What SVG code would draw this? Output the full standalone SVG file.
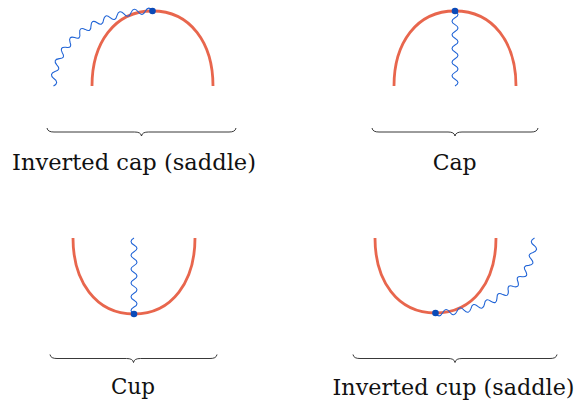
<svg xmlns="http://www.w3.org/2000/svg" width="577" height="405" viewBox="0 0 577 405">
<style>
.red{fill:none;stroke:#e8664d;stroke-width:2.8}
.wave{fill:none;stroke:#1f63d6;stroke-width:1.1}
.dot{fill:#0a4ab8}
.brace{fill:none;stroke:#222;stroke-width:0.9}
.lbl{font-family:'DejaVu Serif','Liberation Serif',serif;font-size:22.5px;fill:#111;text-anchor:middle}
</style>
<rect width="577" height="405" fill="#fff"/>
<g id="inverted-cap">
<path class="red" d="M92,86 C92,43 114.5,11 152.5,11 C190.5,11 213,43 213,86"/>
<path class="wave" d="M53.5,86 Q59.68,82.59 53.88,78.55 Q48.51,74.09 54.99,71.51 Q61.68,69.75 56.79,64.86 Q52.43,59.55 59.24,58.62 Q66.08,58.47 62.29,52.77 Q59.10,46.72 65.91,47.31 Q72.62,48.57 70.05,42.24 Q68.09,35.69 74.67,37.57 Q81.08,40.0 79.73,33.28 Q78.97,26.45 85.19,29.38 Q91.21,32.74 91.00,25.85 Q91.33,18.94 97.13,22.71 Q102.71,26.84 103.53,19.95 Q104.82,13.11 110.17,17.56 Q115.28,22.31 116.99,15.55 Q119.10,8.89 123.96,13.90 Q128.56,19.18 131.04,12.63 Q133.86,6.22 138.19,11.72 Q142.22,17.43 145.35,11.18 Q148.78,5.09 152.5,11"/>
<circle class="dot" cx="152.5" cy="11" r="3.3"/>
<path class="brace" d="M47,128 C47.5,131 50,132 54,132 L134.5,132 C138.5,132 141,133 141.5,136 C142,133 144.5,132 148.5,132 L229,132 C233,132 235.5,131 236,128"/>
<text class="lbl" x="134" y="170" textLength="244" lengthAdjust="spacingAndGlyphs">Inverted cap (saddle)</text>
</g>
<g id="cap">
<path class="red" d="M394,86 C394,43 416.5,11 455,11 C493.5,11 516,43 516,86"/>
<path class="wave" d="M455,11 q6,3.41 0,6.82 t0,6.82 t0,6.82 t0,6.82 t0,6.82 t0,6.82 t0,6.82 t0,6.82 t0,6.82 t0,6.82 t0,6.82"/>
<circle class="dot" cx="455" cy="11" r="3.3"/>
<path class="brace" d="M372,128 C372.5,131 375,132 379,132 L448,132 C452,132 454.5,133 455,136 C455.5,133 458,132 462,132 L531,132 C535,132 537.5,131 538,128"/>
<text class="lbl" x="454.7" y="169.5" textLength="44" lengthAdjust="spacingAndGlyphs">Cap</text>
</g>
<g id="cup">
<path class="red" d="M73,238 C73,281 95.5,314 134,314 C172.5,314 195,281 195,238"/>
<path class="wave" d="M134,314 q-6,-3.455 0,-6.91 t0,-6.91 t0,-6.91 t0,-6.91 t0,-6.91 t0,-6.91 t0,-6.91 t0,-6.91 t0,-6.91 t0,-6.91 t0,-6.91"/>
<circle class="dot" cx="134" cy="314" r="3.3"/>
<path class="brace" d="M50,354.5 C50.5,357.5 53,358.5 57,358.5 L126.5,358.5 C130.5,358.5 133,359.5 133.5,362.5 C134,359.5 136.5,358.5 140.5,358.5 L210,358.5 C214,358.5 216.5,357.5 217,354.5"/>
<text class="lbl" x="133" y="394.3" textLength="44" lengthAdjust="spacingAndGlyphs">Cup</text>
</g>
<g id="inverted-cup">
<g transform="rotate(180 294 162)">
<path class="red" d="M92,86 C92,43 114.5,11 152.5,11 C190.5,11 213,43 213,86"/>
<path class="wave" d="M53.5,86 Q59.68,82.59 53.88,78.55 Q48.51,74.09 54.99,71.51 Q61.68,69.75 56.79,64.86 Q52.43,59.55 59.24,58.62 Q66.08,58.47 62.29,52.77 Q59.10,46.72 65.91,47.31 Q72.62,48.57 70.05,42.24 Q68.09,35.69 74.67,37.57 Q81.08,40.0 79.73,33.28 Q78.97,26.45 85.19,29.38 Q91.21,32.74 91.00,25.85 Q91.33,18.94 97.13,22.71 Q102.71,26.84 103.53,19.95 Q104.82,13.11 110.17,17.56 Q115.28,22.31 116.99,15.55 Q119.10,8.89 123.96,13.90 Q128.56,19.18 131.04,12.63 Q133.86,6.22 138.19,11.72 Q142.22,17.43 145.35,11.18 Q148.78,5.09 152.5,11"/>
<circle class="dot" cx="152.5" cy="11" r="3.3"/>
</g>
<path class="brace" d="M353,354.5 C353.5,357.5 356,358.5 360,358.5 L448,358.5 C452,358.5 454.5,359.5 455,362.5 C455.5,359.5 458,358.5 462,358.5 L550,358.5 C554,358.5 556.5,357.5 557,354.5"/>
<text class="lbl" x="453.5" y="395" textLength="242" lengthAdjust="spacingAndGlyphs">Inverted cup (saddle)</text>
</g>
</svg>
